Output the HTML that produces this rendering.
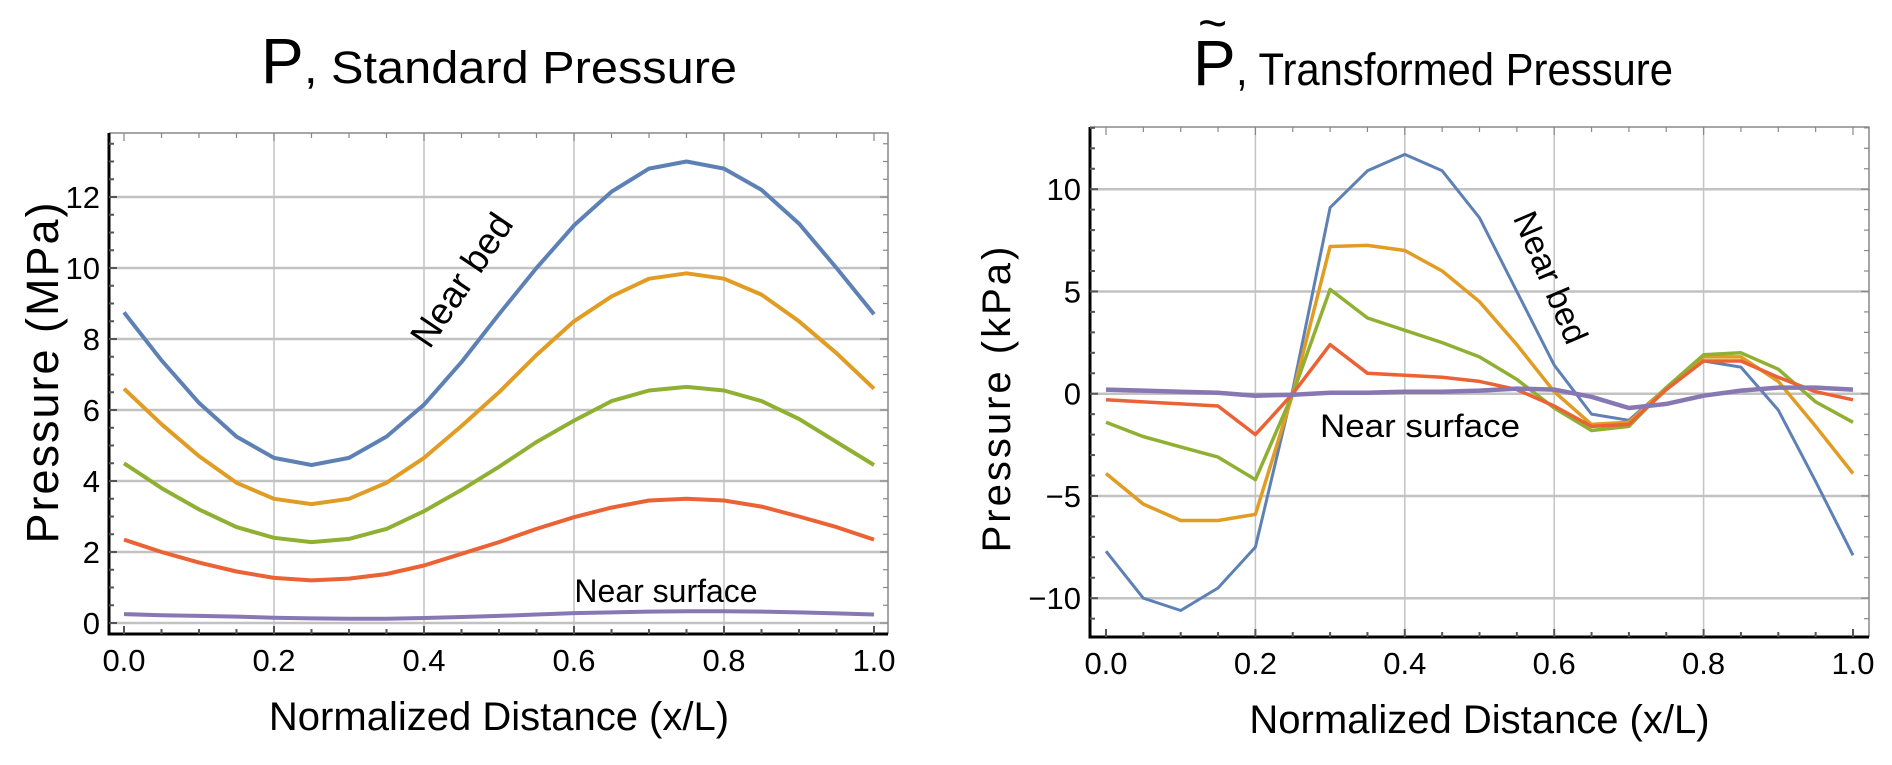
<!DOCTYPE html>
<html><head><meta charset="utf-8">
<style>
html,body{margin:0;padding:0;background:#fff;}
svg{display:block;font-family:"Liberation Sans",sans-serif;}
</style></head>
<body>
<svg id="fig" width="1892" height="765" viewBox="0 0 1892 765">
  <g>
    <text x="261" y="83" font-size="64">P</text>
    <text x="304" y="83" font-size="45" textLength="433" lengthAdjust="spacingAndGlyphs">, Standard Pressure</text>
  </g>
  <g>
    <text x="1193" y="85" font-size="64">P</text>
    <text x="1198" y="40" font-size="50">~</text>
    <text x="1236" y="85" font-size="45" textLength="437" lengthAdjust="spacingAndGlyphs">, Transformed Pressure</text>
  </g>
  <g id="left"></g>
  <g id="right"></g>
</svg>
<script>
const xValues = [0,0.05,0.1,0.15,0.2,0.25,0.3,0.35,0.4,0.45,0.5,0.55,0.6,0.65,0.7,0.75,0.8,0.85,0.9,0.95,1.0];
const xTickLabels = ["0.0","0.2","0.4","0.6","0.8","1.0"];
const leftYTicks = [0,2,4,6,8,10,12];
const rightYTicks = [-10,-5,0,5,10];
const colors = ["#5e81b5","#e19c24","#8fb032","#eb6235","#8778b3"];
const seriesNames = ["series-1-near-bed","series-2","series-3","series-4","series-5-near-surface"];

const leftBlue   = [8.75,7.4,6.2,5.25,4.65,4.45,4.65,5.25,6.15,7.35,8.7,10.0,11.2,12.15,12.8,13.0,12.8,12.2,11.25,10.0,8.7];
const leftOrange = [6.6,5.6,4.7,3.95,3.5,3.35,3.5,3.95,4.65,5.55,6.5,7.55,8.5,9.2,9.7,9.85,9.7,9.25,8.5,7.6,6.6];
const leftGreen  = [4.5,3.8,3.2,2.7,2.4,2.28,2.37,2.65,3.15,3.75,4.4,5.1,5.7,6.25,6.55,6.65,6.55,6.25,5.75,5.1,4.45];
const leftRed    = [2.35,2.0,1.7,1.45,1.27,1.2,1.25,1.38,1.62,1.95,2.28,2.65,2.98,3.25,3.45,3.5,3.45,3.28,3.0,2.7,2.35];
const leftPurple = [0.25,0.22,0.2,0.18,0.15,0.13,0.12,0.12,0.14,0.17,0.2,0.24,0.28,0.3,0.32,0.33,0.33,0.32,0.3,0.27,0.24];

const rightBlue   = [-7.7,-10,-10.6,-9.5,-7.5,0.2,9.1,10.9,11.7,10.9,8.6,5,1.4,-1,-1.3,0.3,1.6,1.3,-0.8,-4.3,-7.9];
const rightOrange = [-3.9,-5.4,-6.2,-6.2,-5.9,0,7.2,7.25,7.0,6.0,4.5,2.4,0.1,-1.5,-1.4,0.3,1.8,1.8,0.6,-1.6,-3.9];
const rightGreen  = [-1.4,-2.1,-2.6,-3.1,-4.2,0,5.1,3.7,3.1,2.5,1.8,0.7,-0.7,-1.8,-1.6,0.3,1.9,2.0,1.2,-0.4,-1.4];
const rightRed    = [-0.3,-0.4,-0.5,-0.6,-2.0,0,2.4,1.0,0.9,0.8,0.6,0.2,-0.6,-1.6,-1.5,0.2,1.6,1.6,0.8,0.1,-0.3];
const rightPurple = [0.2,0.15,0.1,0.05,-0.1,-0.05,0.05,0.05,0.1,0.1,0.15,0.25,0.2,-0.15,-0.7,-0.5,-0.1,0.15,0.3,0.3,0.2];

const NS="http://www.w3.org/2000/svg";
function mk(parent,tag,attrs,text){const e=document.createElementNS(NS,tag);for(const k in attrs)e.setAttribute(k,attrs[k]);if(text!==undefined)e.textContent=text;parent.appendChild(e);return e;}

function drawChart(g, cfg, series){
  const X=v=>cfg.x0+v*(cfg.x1-cfg.x0);
  const Y=v=>cfg.y0-(v-cfg.yZero)*cfg.ppu;
  for(let i=1;i<xTickLabels.length-1;i++){
    const l=mk(g,'line',{x1:X(i*0.2),x2:X(i*0.2),y1:cfg.top,y2:cfg.bottom,stroke:'#c4c4c4','stroke-width':1.5});
    
    
  }
  cfg.yTicks.forEach(v=>{
    const l=mk(g,'line',{x1:cfg.left,x2:cfg.right,y1:Y(v),y2:Y(v),stroke:'#c2c2c2','stroke-width':2.5});
    
    
  });
  const fr=mk(g,'path',{d:`M${cfg.left},${cfg.top}H${cfg.right}V${cfg.bottom}`,fill:'none',stroke:'#888','stroke-width':1.5});
  
  
  const ax=mk(g,'path',{d:`M${cfg.left},${cfg.top}V${cfg.bottom}H${cfg.right}`,fill:'none',stroke:'#000','stroke-width':3});
  
  
  for(let k=0;k<=20;k++){
    const v=k*0.05, major=k%4===0, len=major?8:5;
    mk(g,'line',{x1:X(v),x2:X(v),y1:cfg.bottom,y2:cfg.bottom-len,stroke:'#555','stroke-width':2});
    mk(g,'line',{x1:X(v),x2:X(v),y1:cfg.top,y2:cfg.top+len,stroke:'#888','stroke-width':1.2});
  }
  xTickLabels.forEach((t,i)=>{
    const e=mk(g,'text',{x:X(i*0.2),y:cfg.bottom+37,'font-size':31,'text-anchor':'middle'},t);
    
    
  });
  for(let v=cfg.minorStart; v<=cfg.minorEnd+1e-9; v+=cfg.minorStep){
    const major=cfg.yTicks.some(t=>Math.abs(t-v)<1e-6), len=major?8:5;
    const y=Y(v); if(y<cfg.top||y>cfg.bottom) continue;
    mk(g,'line',{x1:cfg.left,x2:cfg.left+len,y1:y,y2:y,stroke:'#555','stroke-width':2});
    mk(g,'line',{x1:cfg.right,x2:cfg.right-len,y1:y,y2:y,stroke:'#888','stroke-width':1.2});
  }
  cfg.yTicks.forEach(v=>{
    const e=mk(g,'text',{x:cfg.left-9,y:Y(v)+11,'font-size':31,'text-anchor':'end'},v<0?'\u2212'+Math.abs(v):String(v));
    
    
  });
  series.forEach((s,i)=>{
    const d=s.map((v,j)=>(j?'L':'M')+X(xValues[j]).toFixed(1)+','+Y(v).toFixed(1)).join('');
    const p=mk(g,'path',{d:d,fill:'none',stroke:colors[i],'stroke-width':cfg.sw[i],'stroke-linejoin':'round'});
    
    
  });
  const xt=mk(g,'text',{x:(cfg.x0+cfg.x1)/2,y:cfg.bottom+96,'font-size':40,'text-anchor':'middle'},'Normalized Distance (x/L)');
  
  
  const yt=mk(g,'text',{x:0,y:0,'font-size':cfg.yfs,'text-anchor':'middle',transform:`translate(${cfg.ytx},${cfg.yty}) rotate(-90)`,'letter-spacing':cfg.yls},cfg.yTitle);
  
  
}

drawChart(document.getElementById('left'),{
  x0:124,x1:874,left:109,right:888,top:133,bottom:634,y0:623,yZero:0,ppu:35.5,
  yTicks:leftYTicks,minorStart:0,minorEnd:14,minorStep:0.5,
  sw:[4,4,4,4,4],ytx:58,yty:372,yTitle:'Pressure (MPa)',yls:2,yfs:45
},[leftBlue,leftOrange,leftGreen,leftRed,leftPurple]);

drawChart(document.getElementById('right'),{
  x0:1106,x1:1853,left:1090,right:1869,top:127,bottom:637,y0:393.7,yZero:0,ppu:20.45,
  yTicks:rightYTicks,minorStart:-12,minorEnd:13,minorStep:1,
  sw:[3,3.5,3.5,3.5,4.5],ytx:1010,yty:398,yTitle:'Pressure (kPa)',yls:3,yfs:40
},[rightBlue,rightOrange,rightGreen,rightRed,rightPurple]);

const L=document.getElementById('left'), R=document.getElementById('right');
let a;
a=mk(L,'text',{x:0,y:0,'font-size':37,'text-anchor':'middle',transform:'translate(472,287) rotate(-56)'},'Near bed');


a=mk(L,'text',{x:666,y:602,'font-size':32,'text-anchor':'middle'},'Near surface');


a=mk(R,'text',{x:0,y:0,'font-size':34,'text-anchor':'middle',transform:'translate(1540,282) rotate(67)'},'Near bed');


a=mk(R,'text',{x:1420,y:437,'font-size':32,'text-anchor':'middle',textLength:200,lengthAdjust:'spacingAndGlyphs'},'Near surface');


</script>
</body></html>
